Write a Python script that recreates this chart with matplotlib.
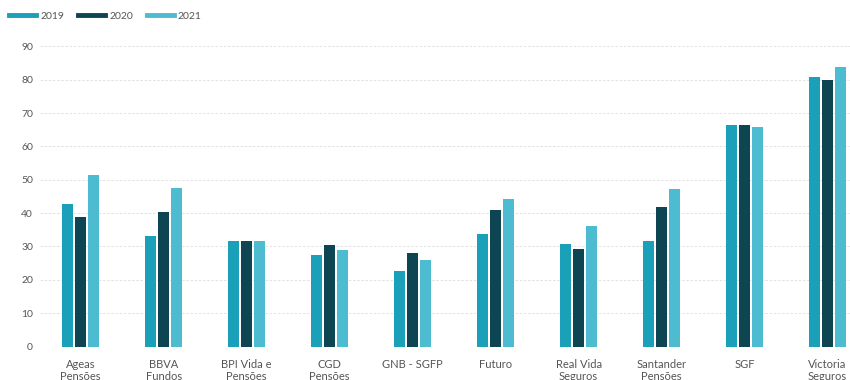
import numpy as np
import matplotlib
matplotlib.use("Agg")
import matplotlib.pyplot as plt

# data
companies = ["Ageas\nPensões", "BBVA\nFundos", "BPI Vida e\nPensões", "CGD\nPensões",
             "GNB - SGFP", "Futuro", "Real Vida\nSeguros", "Santander\nPensões",
             "SGF", "Victoria\nSeguros"]
v2019 = [42.7, 33.2, 31.5, 27.3, 22.7, 33.7, 30.7, 31.7, 66.3, 80.9]
v2020 = [38.7, 40.3, 31.5, 30.3, 27.9, 40.8, 29.3, 41.9, 66.3, 80.0]
v2021 = [51.5, 47.5, 31.5, 28.9, 25.9, 44.2, 36.0, 47.2, 65.7, 83.8]
years = ["2019", "2020", "2021"]
colors = ["#1aa0b8", "#0d4552", "#4dbcd0"]

plt.rcParams['font.family'] = ['Lato', 'DejaVu Sans']

fig = plt.figure(figsize=(8.5, 3.8), dpi=100)
ax = fig.add_axes([0.047, 0.088, 0.953, 0.79])

x = np.arange(len(companies))
width = 0.125
step = 0.157
for i, (vals, yr, c) in enumerate(zip([v2019, v2020, v2021], years, colors)):
    ax.bar(x + (i - 1) * step, vals, width=width, color=c, label=yr, zorder=3)

ax.set_xlim(-0.49, 9.27)
ax.set_ylim(0, 90)
ax.set_yticks(range(0, 91, 10))
ax.set_xticks(x)
ax.set_xticklabels(companies, fontsize=8, color="#555555", linespacing=1.05)
ax.tick_params(axis="y", labelsize=7.5, labelcolor="#555555", length=0, pad=5)
ax.tick_params(axis="x", length=0, pad=9)
ax.grid(axis="y", color="#dddddd", linestyle=(0, (3, 2)), linewidth=0.6, zorder=0)
for s in ax.spines.values():
    s.set_visible(False)

# legend with short line handles at the top left
handles = [plt.Line2D([0], [0], color=c, lw=3.5) for c in colors]
fig.legend(handles, years, loc="upper left", bbox_to_anchor=(0.0, 0.995), ncol=3,
           frameon=False, fontsize=7.5, handlelength=2.6, handletextpad=0.4,
           columnspacing=1.3, labelcolor="#555555")

fig.savefig("out.png", dpi=100)
